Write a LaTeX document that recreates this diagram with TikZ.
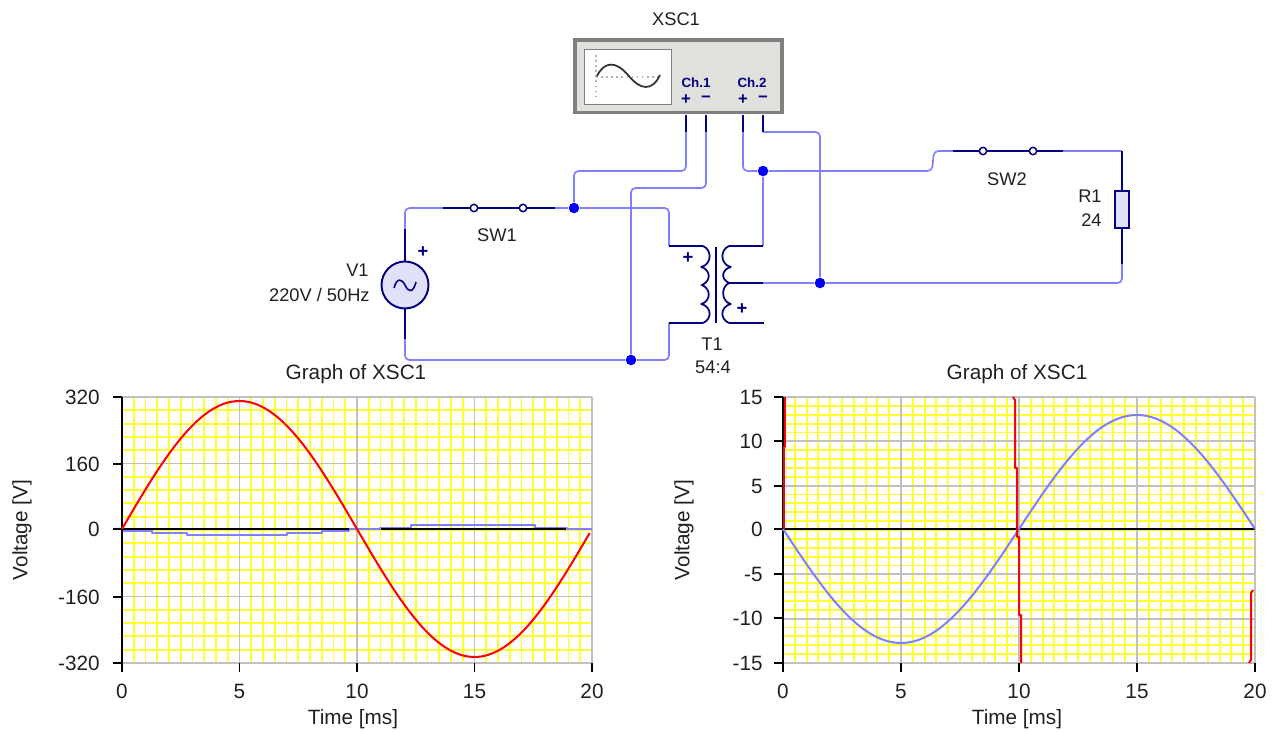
\documentclass[tikz,border=0pt]{standalone}
\usepackage{fontspec}
\setmainfont{Liberation Sans}
\usetikzlibrary{calc}
\definecolor{wirecol}{HTML}{8080FF}
\definecolor{leadcol}{HTML}{000080}
\definecolor{dotcol}{HTML}{0000FF}
\definecolor{gridcol}{HTML}{FFFF30}
\definecolor{majorcol}{HTML}{C0C0C0}
\definecolor{scopecol}{HTML}{E0E0DC}
\definecolor{partcol}{HTML}{E0E0F8}
\definecolor{labelcol}{HTML}{202020}
\tikzset{
    wire/.style={draw=wirecol,line width=.95pt,rounded corners=2.5pt},
    lead/.style={draw=leadcol,line width=1pt},
    junction/.style={circle,fill=dotcol,inner sep=0,minimum size=6pt},
    contact/.style={circle,draw=leadcol,fill=white,line width=.85pt,inner sep=0,minimum size=4.2pt},
    lbl/.style={font=\fontsize{10.4}{12}\selectfont,text=labelcol,inner sep=0},
    plbl/.style={font=\fontsize{11.8}{13}\selectfont,text=labelcol,inner sep=0},
    pin/.style={font=\bfseries\fontsize{7.6}{9}\selectfont,text=leadcol,inner sep=0},
    sign/.style={font=\bfseries\fontsize{10.5}{11}\selectfont,text=leadcol,inner sep=0},
    pinsign/.style={font=\bfseries\fontsize{9.5}{10}\selectfont,text=leadcol,inner sep=0},
    minor/.style={draw=gridcol,line width=1.05pt},
    major/.style={draw=majorcol,line width=1.05pt},
    axis/.style={draw=black,line width=1.05pt},
    redtrace/.style={draw=red,line width=1.15pt,line join=round},
    bluetrace/.style={draw=wirecol,line width=1.15pt,line join=round}
}
\begin{document}
\begin{tikzpicture}[x=.02cm,y=-.02cm]
    \useasboundingbox (0,0) rectangle (1274,732);

    % oscilloscope
    \node[lbl] (xscname) at (676,19) {XSC1};
    \node[draw=gray,fill=scopecol,line width=2pt,minimum width=4.14cm,minimum height=1.45cm,inner sep=0] (xsc) at (678.5,76.5) {};
    \node[draw=gray,fill=white,line width=.9pt,minimum width=1.74cm,minimum height=1.1cm,inner sep=0] (screen) at (628,77) {};
    \draw[gray!60,line width=.9pt,dotted] (596,55) -- (596,98);
    \draw[gray!60,line width=.9pt,dotted] (596,77) -- (660,77);
    \draw[black!80,line width=1pt] (597,76) .. controls (604,62) and (615,60) .. (628,75) .. controls (640,90) and (652,92) .. (660,75);
    \node[pin] (ch1) at (696,83) {Ch.1};
    \node[pin] (ch2) at (752,83) {Ch.2};
    \node[pinsign] (ch1p) at (686,99.5) {+};
    \node[pinsign] (ch1m) at (706,99.5) {−};
    \node[pinsign] (ch2p) at (743,99.5) {+};
    \node[pinsign] (ch2m) at (763,99.5) {−};

    % pins of the scope
    \coordinate (p1a) at (686,115);
    \coordinate (p1b) at (686,132);
    \coordinate (p2a) at (706,115);
    \coordinate (p2b) at (706,132);
    \coordinate (p3a) at (743,115);
    \coordinate (p3b) at (743,132);
    \coordinate (p4a) at (763,115);
    \coordinate (p4b) at (763,132);

    % parts
    \node[circle,draw=leadcol,fill=partcol,line width=1.1pt,minimum size=.94cm,inner sep=0] (V1) at (405,285) {};
    \draw[leadcol,line width=.9pt] (394,288) .. controls (397,277) and (402,279) .. (405,285) .. controls (408,292) and (413,294) .. (416,282);
    \node[sign] (V1p) at (423,252) {+};
    \node[lbl,anchor=east] (V1a) at (369,270.5) {V1};
    \node[lbl,anchor=east] (V1b) at (370,295) {220V / 50Hz};

    \node[contact] (sw1a) at (474,208) {};
    \node[contact] (sw1b) at (523,208) {};
    \node[lbl] (SW1) at (497,235) {SW1};
    \node[contact] (sw2a) at (983,151) {};
    \node[contact] (sw2b) at (1033,151) {};
    \node[lbl] (SW2) at (1007,179) {SW2};

    \node[draw=leadcol,fill=partcol,line width=1.1pt,minimum width=.27cm,minimum height=.74cm,inner sep=0] (R1) at (1122,209.5) {};
    \node[lbl,anchor=east] (R1a) at (1102,196) {R1};
    \node[lbl,anchor=east] (R1b) at (1102,220) {24};

    \node[lbl] (T1a) at (712,344) {T1};
    \node[lbl] (T1b) at (713,367) {54:4};
    \node[sign] (T1p) at (688,258) {+};
    \node[sign] (T1s) at (742,309) {+};

    % junctions
    \node[junction] (j1) at (574,208) {};
    \node[junction] (j2) at (631,360) {};
    \node[junction] (j3) at (763,171) {};
    \node[junction] (j4) at (820,283) {};

    % free ends of the leads
    \coordinate (V1t) at (405,229);
    \coordinate (V1u) at (405,339);
    \coordinate (sw1l) at (443,208);
    \coordinate (sw1r) at (555,208);
    \coordinate (sw2l) at (953,151);
    \coordinate (sw2r) at (1063,151);
    \coordinate (R1t) at (1122,151);
    \coordinate (R1u) at (1122,264);
    \coordinate (pt) at (669,246);
    \coordinate (pu) at (669,323);
    \coordinate (ct) at (703,246);
    \coordinate (cu) at (703,323);
    \coordinate (st) at (729,246);
    \coordinate (su) at (729,323);
    \coordinate (sm) at (729,283);
    \coordinate (et) at (763,246);
    \coordinate (em) at (763,283);
    \coordinate (eu) at (764,323);

    % wires
    \draw[wire] (p1b) -- (686,171) -- (574,171) -- (j1);
    \draw[wire] (p2b) -- (706,188) -- (631,188) -- (j2);
    \draw[wire] (p3b) -- (743,171) -- (j3);
    \draw[wire] (p4b) -- (820,132) -- (j4);
    \draw[wire] (j3) -- (932,171) -- (934,151) -- (sw2l);
    \draw[wire] (sw2r) -- (R1t);
    \draw[wire] (R1u) -- (1122,283) -- (j4);
    \draw[wire] (j4) -- (em);
    \draw[wire] (j3) -- (et);
    \draw[wire] (V1t) -- (405,208) -- (sw1l);
    \draw[wire] (sw1r) -- (j1);
    \draw[wire] (j1) -- (669,208) -- (pt);
    \draw[wire] (V1u) -- (405,360) -- (j2);
    \draw[wire] (j2) -- (669,360) -- (pu);

    % leads
    \draw[lead] (p1a) -- (p1b);
    \draw[lead] (p2a) -- (p2b);
    \draw[lead] (p3a) -- (p3b);
    \draw[lead] (p4a) -- (p4b);
    \draw[lead] (V1) -- (V1t);
    \draw[lead] (V1) -- (V1u);
    \draw[lead] (sw1l) -- (sw1a) -- (sw1b) -- (sw1r);
    \draw[lead] (sw2l) -- (sw2a) -- (sw2b) -- (sw2r);
    \draw[lead] (R1t) -- (R1);
    \draw[lead] (R1) -- (R1u);
    \draw[lead] (pt) -- (ct);
    \draw[lead] (pu) -- (cu);
    \draw[lead] (st) -- (et);
    \draw[lead] (su) -- (eu);
    \draw[lead] (sm) -- (em);

    % transformer
    \draw[leadcol,line width=1.2pt] (716,247) -- (716,323);
    \draw[lead] (ct) .. controls (712,250) and (712,263) .. (702,267) .. controls (711,271) and (711,281) .. (702,285) .. controls (711,289) and (711,300) .. (702,304) .. controls (712,308) and (712,319) .. (cu);
    \draw[lead] (st) .. controls (720,250) and (720,263) .. (730,267) .. controls (721,271) and (721,279) .. (sm) .. controls (721,287) and (721,300) .. (730,304) .. controls (720,308) and (720,319) .. (su);
    \fill[leadcol] (702,267) circle (1.6);
    \fill[leadcol] (702,304) circle (1.6);
    \fill[leadcol] (730,267) circle (1.6);
    \fill[leadcol] (730,304) circle (1.6);

    % left graph
    \node[plbl] (titleA) at (356,374.5) {Graph of XSC1};
    \foreach \i in {1,...,39} \draw[minor] ({122+11.75*\i},397) -- ({122+11.75*\i},663);
    \foreach \i in {1,...,19} \draw[minor] (122,{397+13.3*\i}) -- (592,{397+13.3*\i});
    \foreach \i in {1,2,3,4} \draw[major] ({122+117.5*\i},397) -- ({122+117.5*\i},663);
    \foreach \i in {0,1,3,4} \draw[major] (122,{397+66.5*\i}) -- (592,{397+66.5*\i});
    \draw[bluetrace] (122,530.5) -- (152,530.5) -- (152,532.7) -- (187,532.7) -- (187,535) -- (287,535) -- (287,532.7) -- (322,532.7) -- (322,530.5) -- (349,530.5) -- (349,529) -- (380,529) -- (380,527.7) -- (411,527.7) -- (411,525) -- (535,525) -- (535,527.7) -- (567,527.7) -- (567,529) -- (592,529);
    \draw[axis] (122,397) -- (122,663);
    \draw[axis] (122,529) -- (349,529);
    \draw[axis] (381,529) -- (566,529);
    \foreach \y/\t in {397/320,464/160,529/0,597/-160,663/-320} {
        \draw[axis] (113,\y) -- (122,\y);
        \node[plbl,anchor=east] (ylA\t) at (100,\y) {\t};
    }
    \foreach \x/\t in {122/0,239.5/5,357/10,474.5/15,592/20} {
        \draw[axis] (\x,663) -- (\x,672);
        \node[plbl] (xlA\t) at (\x,691) {\t};
    }
    \draw[redtrace] plot[domain=0:19.9,samples=120] ({122+23.5*\x},{529-128*sin(18*\x)});
    \node[plbl,rotate=90] (yA) at (22,530) {Voltage [V]};
    \node[plbl] (xA) at (353,719) {Time [ms]};

    % right graph
    \node[plbl] (titleB) at (1017,374.5) {Graph of XSC1};
    \foreach \i in {1,...,39} \draw[minor] ({783+11.8*\i},397) -- ({783+11.8*\i},663);
    \foreach \i in {1,...,29} \draw[minor] (783,{397+8.867*\i}) -- (1255,{397+8.867*\i});
    \foreach \i in {1,2,3,4} \draw[major] ({783+118*\i},397) -- ({783+118*\i},663);
    \foreach \i in {0,1,2,4,5,6} \draw[major] (783,{397+44.33*\i}) -- (1255,{397+44.33*\i});
    \draw[axis] (783,397) -- (783,663);
    \draw[axis] (783,529) -- (1255,529);
    \foreach \y/\t in {397/15,441/10,486/5,529/0,574/-5,618/-10,663/-15} {
        \draw[axis] (774,\y) -- (783,\y);
        \node[plbl,anchor=east] (ylB\t) at (763,\y) {\t};
    }
    \foreach \x/\t in {783/0,901/5,1019/10,1137/15,1255/20} {
        \draw[axis] (\x,663) -- (\x,672);
        \node[plbl] (xlB\t) at (\x,691) {\t};
    }
    \draw[bluetrace] plot[domain=0:20,samples=120] ({783+23.6*\x},{529+114*sin(18*\x)});
    \draw[redtrace] (785,397) -- (785,447) -- (783.5,447) -- (783.5,529);
    \draw[redtrace] (1013,397) -- (1015,400) -- (1015,468) -- (1017,468) -- (1017,537) -- (1019,537) -- (1019,615) -- (1021,615) -- (1021,663);
    \draw[redtrace] (1253,590) -- (1251,593) -- (1251,660) -- (1249,663);
    \node[plbl,rotate=90] (yB) at (684,530) {Voltage [V]};
    \node[plbl] (xB) at (1017,719) {Time [ms]};
\end{tikzpicture}
\end{document}
